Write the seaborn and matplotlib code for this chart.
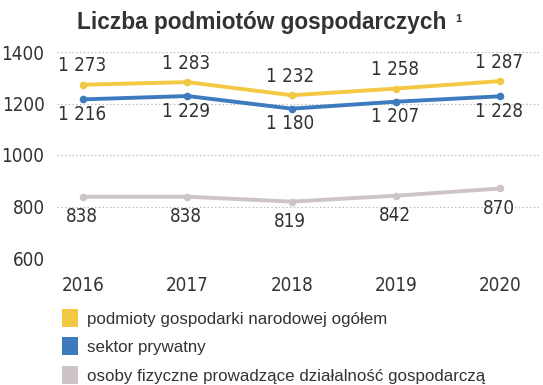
import matplotlib
matplotlib.use("Agg")
import matplotlib.pyplot as plt
from matplotlib.patches import Patch
import seaborn as sns
import pandas as pd

# Data: number of business entities (thousands)
years = ["2016", "2017", "2018", "2019", "2020"]
ogolem = [1273, 1283, 1232, 1258, 1287]
prywatny = [1216, 1229, 1180, 1207, 1228]
osoby_fizyczne = [838, 838, 819, 842, 870]

series_names = [
    "podmioty gospodarki narodowej ogółem",
    "sektor prywatny",
    "osoby fizyczne prowadzące działalność gospodarczą",
]
series_values = [ogolem, prywatny, osoby_fizyczne]
colors = ["#F3C843", "#3D7BBE", "#CDC4C5"]
label_offsets = [13.5, -11, -14.5]  # points above (+) / below (-) the marker

yticks = [600, 800, 1000, 1200, 1400]

sns.set_theme(style="white")
regular = ["Liberation Sans", "DejaVu Sans"]
plt.rcParams["font.family"] = ["DejaVu Sans"]
plt.rcParams["font.stretch"] = "condensed"
text_color = "#333333"
num_size = 13.5

rows = []
for name, vals in zip(series_names, series_values):
    for i, v in enumerate(vals):
        rows.append({"idx": i, "value": v, "series": name})
df = pd.DataFrame(rows)

fig = plt.figure(figsize=(5.43, 3.85), dpi=100)
ax = fig.add_axes([57 / 543, 1 - 258 / 385, (540 - 57) / 543, (258 - 52) / 385])

sns.lineplot(
    data=df, x="idx", y="value", hue="series", hue_order=series_names,
    palette=colors, marker="o", markersize=5.5, markeredgewidth=0,
    linewidth=2.8, legend=False, ax=ax,
)

for vals, off in zip(series_values, label_offsets):
    for i, v in enumerate(vals):
        ax.annotate(
            f"{v:,}".replace(",", " "), (i, v), xytext=(-1, off),
            textcoords="offset points", ha="center", va="center",
            fontsize=num_size, color=text_color, annotation_clip=False,
            fontstretch="condensed",
        )

ax.set_xlim(-0.25, 4.38)
ax.set_ylim(600, 1400)
ax.set_xticks(range(len(years)))
ax.set_xticklabels(years, fontstretch="condensed")
ax.set_yticks(yticks)
ax.set_yticklabels([str(t) for t in yticks], fontstretch="condensed")
ax.tick_params(axis="both", length=0, labelsize=num_size, colors=text_color)
ax.tick_params(axis="y", pad=9)
ax.tick_params(axis="x", pad=13)
ax.set_xlabel("")
ax.set_ylabel("")
for s in ax.spines.values():
    s.set_visible(False)
ax.grid(False)
for t in yticks:
    ax.axhline(t, color="#BDBDBD", lw=0.9, ls=(0, (1.2, 1.8)), zorder=0)

# Title with a small footnote marker
title = fig.text(
    0.482, 1 - 22 / 385, "Liczba podmiotów gospodarczych",
    ha="center", va="center", fontsize=16.3, fontweight="bold",
    family=regular, fontstretch="normal", color=text_color,
)
fig.canvas.draw()
bb = title.get_window_extent()
fig.text(
    (bb.x1 + 9) / fig.bbox.width, (bb.y1 - 3) / fig.bbox.height, "1",
    ha="left", va="top", fontsize=8, fontweight="bold",
    family=regular, fontstretch="normal", color=text_color,
)

handles = [Patch(facecolor=c, edgecolor="none") for c in colors]
fig.legend(
    handles, series_names, loc="upper left",
    bbox_to_anchor=(62 / 543, 1 - 309 / 385), frameon=False,
    prop={"family": regular, "size": 12.2, "stretch": "normal"},
    labelcolor=text_color,
    handlelength=0.95, handleheight=1.25, handletextpad=0.5,
    labelspacing=0.62, borderaxespad=0, borderpad=0,
)

fig.savefig("out.png", dpi=100, facecolor="white")
